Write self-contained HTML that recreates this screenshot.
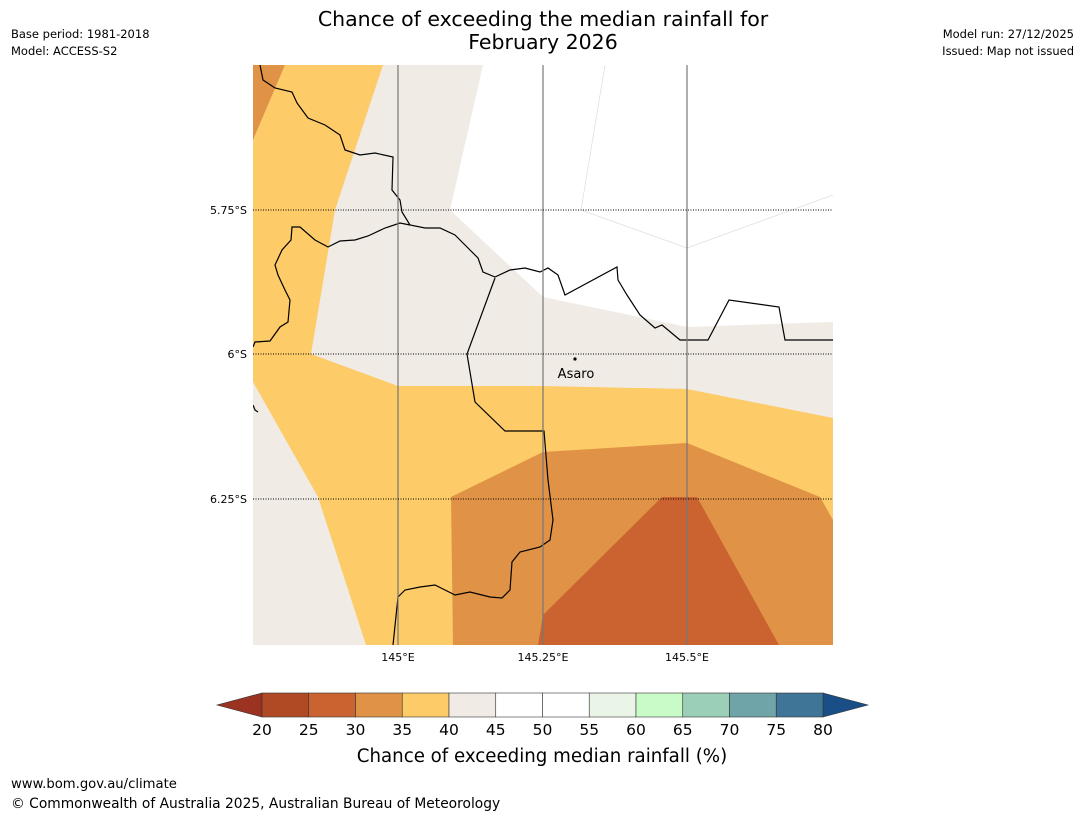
<!DOCTYPE html>
<html><head><meta charset="utf-8"><style>
body{margin:0;background:#fff;}
svg text{font-family:"DejaVu Sans","Liberation Sans",sans-serif;}
</style></head><body>
<svg width="1085" height="816" viewBox="0 0 1085 816" xmlns="http://www.w3.org/2000/svg">
<text x="543" y="26" font-size="20.5" text-anchor="middle">Chance of exceeding the median rainfall for</text>
<text x="543" y="49" font-size="20.5" text-anchor="middle">February 2026</text>
<text x="11" y="38" font-size="11.5">Base period: 1981-2018</text>
<text x="11" y="55" font-size="11.5">Model: ACCESS-S2</text>
<text x="1074" y="38" font-size="11.5" text-anchor="end">Model run: 27/12/2025</text>
<text x="1074" y="55" font-size="11.5" text-anchor="end">Issued: Map not issued</text>

<defs><clipPath id="mc"><rect x="253" y="65" width="580" height="580"/></clipPath></defs>
<g clip-path="url(#mc)">
<rect x="253" y="65" width="580" height="580" fill="#f0ebe5"/>
<polygon points="483,65 450,210 543,297 687,327 833,322 833,65" fill="#ffffff"/>
<polyline points="605,65 581,210 687,248 833,195" fill="none" stroke="#ddd" stroke-width="0.7"/>
<polygon points="253,140 285,65 383,65 335,210 311,354 398,386 543,386 687,389 833,418 833,645 366,645 318,497 253,382" fill="#fdcb67"/>
<polygon points="253,65 285,65 253,140" fill="#e09346"/>
<polygon points="451,497 543,452 687,443 820,497 833,520 833,645 453,645" fill="#e09346"/>
<polygon points="543,615 662,497 697,497 779,645 538,645" fill="#cb6331"/>
<g fill="none" stroke="#000" stroke-width="1.2">
<polyline points="260,65 263,80 275,88 292,92 297,103 308,118 325,125 340,135 345,150 360,155 375,153 393,157 392,190 400,200 402,212 410,225 425,228 440,228 455,235 465,245 478,258 483,272 495,277 510,270 525,268 540,272 548,268 558,275 565,295 617,267 618,280 627,295 640,315 655,328 662,325 680,340 708,340 729,300 779,307 785,340 833,340"/>
<polyline points="253,347 255,342 270,341 280,327 288,322 290,300 285,290 278,275 275,265 282,250 291,240 292,227 300,227 315,240 328,247 340,241 355,240 368,236 385,228 400,223 410,225"/>
<polyline points="495,278 467,354 475,402 505,431 544,431 548,480 553,520 550,540 540,547 520,552 512,562 510,590 502,598 490,597 470,592 455,595 445,590 435,585 420,587 405,590 398,597 393,645"/>
<polyline points="253,405 255,410 258,412"/>
</g>
<g stroke="#777" stroke-width="1.2">
<line x1="398" y1="65" x2="398" y2="645"/><line x1="543" y1="65" x2="543" y2="645"/><line x1="687" y1="65" x2="687" y2="645"/>
</g>
<g stroke="#000" stroke-width="1" stroke-dasharray="1,1.5">
<line x1="253" y1="210" x2="833" y2="210"/><line x1="253" y1="354" x2="833" y2="354"/><line x1="253" y1="499" x2="833" y2="499"/>
</g>
<circle cx="575" cy="359" r="1.6" fill="#000"/>
<text x="576" y="378" font-size="13" text-anchor="middle">Asaro</text>
</g>
<g font-size="11">
<text x="247" y="214" text-anchor="end">5.75°S</text>
<text x="247" y="358" text-anchor="end">6°S</text>
<text x="247" y="503" text-anchor="end">6.25°S</text>
</g>
<g font-size="11" text-anchor="middle">
<text x="398" y="661">145°E</text><text x="543" y="661">145.25°E</text><text x="687" y="661">145.5°E</text>
</g>
<g id="cbar"></g>
<text x="542" y="762" font-size="18.2" text-anchor="middle">Chance of exceeding median rainfall (%)</text>
<text x="11" y="788" font-size="13.2">www.bom.gov.au/climate</text>
<text x="11" y="808" font-size="13.8">© Commonwealth of Australia 2025, Australian Bureau of Meteorology</text>
</svg>
<script>
const cbTicks=[20,25,30,35,40,45,50,55,60,65,70,75,80];
const cbColors=["#b04a25","#cb6331","#e09346","#fdcb67","#f0ebe5","#ffffff","#ffffff","#eaf5e8","#c9fbc9","#9bcfb8","#6fa4a8","#3f7698"];
const cbExt=["#9c3222","#1a4e86"];
const NS="http://www.w3.org/2000/svg";
const g=document.getElementById('cbar');
const x0=262,x1=823,y0=693,y1=717;
const sx=v=>x0+(v-cbTicks[0])/(cbTicks[cbTicks.length-1]-cbTicks[0])*(x1-x0);
function mk(t,a){const e=document.createElementNS(NS,t);for(const k in a)e.setAttribute(k,a[k]);g.appendChild(e);return e;}
let l=mk('polygon',{points:`${x0},${y0} ${x0},${y1} 217,705`,fill:cbExt[0],stroke:'#333','stroke-width':0.6});


let r=mk('polygon',{points:`${x1},${y0} ${x1},${y1} 868,705`,fill:cbExt[1],stroke:'#333','stroke-width':0.6});


cbColors.forEach((c,i)=>{
 const a=sx(cbTicks[i]),b=sx(cbTicks[i+1]);
 const rc=mk('rect',{x:a,y:y0,width:b-a,height:y1-y0,fill:c,stroke:'#333','stroke-width':0.6});
 
 
});
cbTicks.forEach(v=>{
 const t=mk('text',{x:sx(v),y:735,'font-size':15.5,'text-anchor':'middle'});
 t.textContent=v;
 
 
});
</script>
</body></html>
